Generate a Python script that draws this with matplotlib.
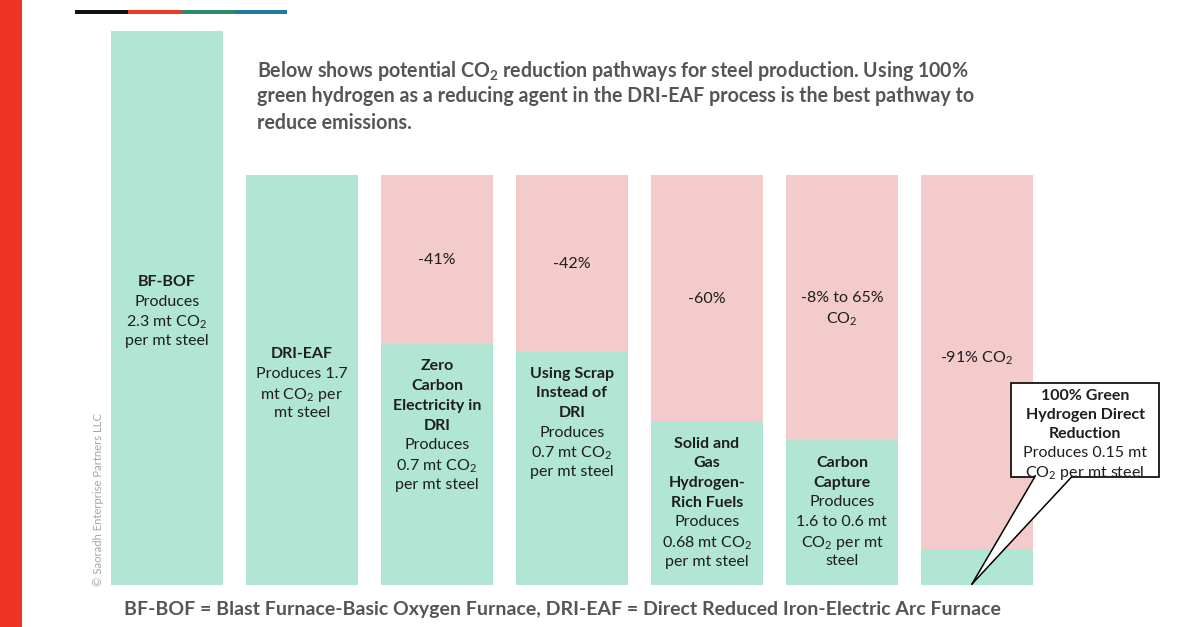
import matplotlib
matplotlib.use("Agg")
import matplotlib.pyplot as plt
from matplotlib.patches import Rectangle, Polygon
from matplotlib.lines import Line2D

plt.rcParams['font.family'] = ['Lato', 'DejaVu Sans']

CO2 = "CO$_\\mathregular{2}$"

# ---- data ----
categories = ["BF-BOF", "DRI-EAF", "Zero Carbon Electricity in DRI", "Using Scrap Instead of DRI",
              "Solid and Gas Hydrogen-Rich Fuels", "Carbon Capture", "100% Green Hydrogen Direct Reduction"]
baseline = [2.3, 1.7, 1.7, 1.7, 1.7, 1.7, 1.7]          # emissions before reduction (pink top)
produced = [2.3, 1.7, 1.0, 0.97, 0.68, 0.6, 0.15]       # remaining emissions (green)
bold_labels = [["BF-BOF"], ["DRI-EAF"], ["Zero", "Carbon", "Electricity in", "DRI"],
               ["Using Scrap", "Instead of", "DRI"],
               ["Solid and", "Gas", "Hydrogen-", "Rich Fuels"], ["Carbon", "Capture"],
               ["100% Green", "Hydrogen Direct", "Reduction"]]
detail_labels = [["Produces", "2.3 mt " + CO2, "per mt steel"],
                 ["Produces 1.7", "mt " + CO2 + " per", "mt steel"],
                 ["Produces", "0.7 mt " + CO2, "per mt steel"],
                 ["Produces", "0.7 mt " + CO2, "per mt steel"],
                 ["Produces", "0.68 mt " + CO2, "per mt steel"],
                 ["Produces", "1.6 to 0.6 mt", CO2 + " per mt", "steel"],
                 ["Produces 0.15 mt", CO2 + " per mt steel"]]
reduction_labels = [[], [], ["-41%"], ["-42%"], ["-60%"], ["-8% to 65%", CO2], ["-91% " + CO2]]

GREEN = "#b2e6d4"
PINK = "#f3cbcb"
TXT = "#1e1e1e"

W, H = 1200, 627
fig = plt.figure(figsize=(W / 100, H / 100), dpi=100)
PT = 0.72  # points per pixel at 100 dpi

# axes placement: bars centred every 135px, first at x=167; baseline at y=585, top (2.3) at y=30.7
ax_left, ax_w = 99.4, 945
ax_bottom_px, ax_h = 585, 554.3
ax = fig.add_axes([ax_left / W, (H - ax_bottom_px) / H, ax_w / W, ax_h / H])
ax.set_xlim(-0.5, 6.5)
ax.set_ylim(0, 2.3)
ax.axis('off')

x = list(range(len(categories)))
ax.bar(x, baseline, width=0.83, color=PINK, zorder=1)
ax.bar(x, produced, width=0.83, color=GREEN, zorder=2)

fs = 11.5
pitch = 19.7  # px between lines


def put_lines(i, yref, first_offset_px, lines):
    """lines: list of (text, bold). first_offset_px: downward offset of first line centre from yref."""
    for k, (t, b) in enumerate(lines):
        off = -(first_offset_px + k * pitch) * PT
        ax.annotate(t, (i, yref), xytext=(0, off), textcoords='offset points',
                    ha='center', va='center_baseline', fontsize=fs,
                    fontweight='bold' if b else 'normal', color=TXT, zorder=5)


for i in x:
    lines = [(t, True) for t in bold_labels[i]] + [(t, False) for t in detail_labels[i]]
    n = len(lines)
    if i < 2:
        put_lines(i, produced[i] / 2, -(n - 1) / 2 * pitch + 2, lines)
    elif i < 6:
        put_lines(i, produced[i], 21, lines)
    red = reduction_labels[i]
    if red:
        m = len(red)
        yc = (baseline[i] + produced[i]) / 2
        put_lines(i, yc, -(m - 1) / 2 * pitch - (6 if i == 6 else 1), [(t, False) for t in red])

# callout for last bar (drawn in pixel coordinates of the figure)
def px(xp, yp):
    return (xp / W, 1 - yp / H)

box = Rectangle(px(1011, 477), 148 / W, 94 / H, transform=fig.transFigure,
                facecolor='white', edgecolor='black', linewidth=1.2, zorder=10, clip_on=False)
fig.patches.append(box)
wedge = Polygon([px(1035, 476), px(972, 584), px(1072, 476)], closed=True,
                transform=fig.transFigure, facecolor='white', edgecolor='none', zorder=11)
fig.patches.append(wedge)
for (a, b) in [((1035, 476.5), (972, 584)), ((1072, 476.5), (972, 584))]:
    fig.lines.append(Line2D([a[0] / W, b[0] / W], [1 - a[1] / H, 1 - b[1] / H],
                            transform=fig.transFigure, color='black', linewidth=1.1, zorder=12))
call_lines = [(t, True) for t in bold_labels[6]] + [(t, False) for t in detail_labels[6]]
for k, (t, b) in enumerate(call_lines):
    fig.text(1085 / W, 1 - (394 + k * 19.2) / H, t, ha='center', va='center_baseline', fontsize=fs,
             fontweight='bold' if b else 'normal', color=TXT, zorder=13)

# red stripe at left
fig.patches.append(Rectangle((0, 0), 22 / W, 1, transform=fig.transFigure,
                             facecolor='#ee3524', edgecolor='none'))
# top colour line
for (x0, x1, c) in [(75, 128, '#111111'), (128, 181, '#ee3a2a'), (181, 234, '#2e8b68'), (234, 287, '#23799f')]:
    fig.patches.append(Rectangle((x0 / W, 1 - 14 / H), (x1 - x0) / W, 4 / H,
                                 transform=fig.transFigure, facecolor=c, edgecolor='none'))

# intro text
intro = ["Below shows potential " + CO2 + " reduction pathways for steel production. Using 100%",
         "green hydrogen as a reducing agent in the DRI-EAF process is the best pathway to",
         "reduce emissions."]
for k, t in enumerate(intro):
    fig.text(257 / W, 1 - (68 + k * 26.5) / H, t, ha='left', va='center_baseline',
             fontsize=14.1, fontweight='bold', color='#555555')

# copyright
fig.text(98 / W, 1 - 499 / H, "\u00a9 Saoradh Enterprise Partners LLC", rotation=90,
         ha='center', va='center', fontsize=8.1, color='#a5a5a5')

# footer
fig.text(562 / W, 1 - 609 / H,
         "BF-BOF = Blast Furnace-Basic Oxygen Furnace, DRI-EAF = Direct Reduced Iron-Electric Arc Furnace",
         ha='center', va='center', fontsize=14.0, fontweight='bold', color='#555555')

fig.savefig("out.png", dpi=100)
